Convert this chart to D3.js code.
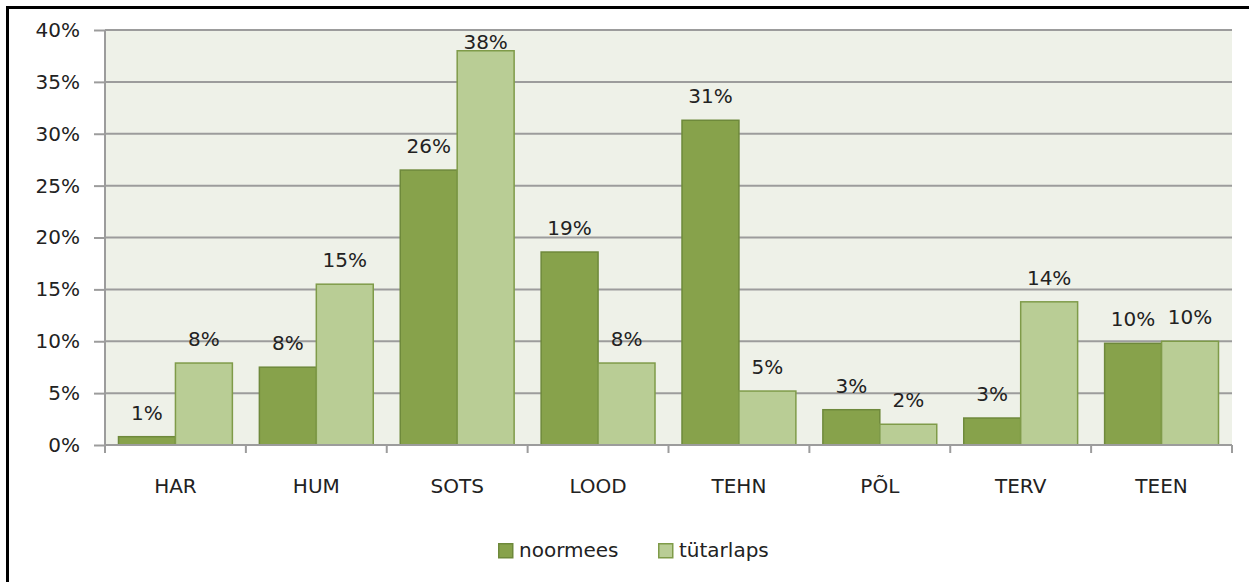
<!DOCTYPE html>
<html>
<head>
<meta charset="utf-8">
<script src="https://cdn.jsdelivr.net/npm/d3@7"></script>
<style>
  html, body { margin: 0; padding: 0; background: #fff; }
  svg { display: block; }
  text { font-family: "DejaVu Sans", Verdana, sans-serif; fill: #222; }
</style>
</head>
<body>
<script>
const categories = ["HAR", "HUM", "SOTS", "LOOD", "TEHN", "PÕL", "TERV", "TEEN"];
const seriesNames = ["noormees", "tütarlaps"];
const noormees  = [0.8, 7.5, 26.5, 18.6, 31.3, 3.4, 2.6, 9.8];
const tutarlaps = [7.9, 15.5, 38.0, 7.9, 5.2, 2.0, 13.8, 10.0];
const valueLabels = {
  noormees:  ["1%", "8%", "26%", "19%", "31%", "3%", "3%", "10%"],
  tütarlaps: ["8%", "15%", "38%", "8%", "5%", "2%", "14%", "10%"]
};
const yTicks = [0, 5, 10, 15, 20, 25, 30, 35, 40];

const W = 1249, H = 582;
const plot = { left: 105, right: 1232, top: 30, bottom: 445 };
const colors = {
  noormees:  { fill: "#87A24B", stroke: "#6E893B" },
  tütarlaps: { fill: "#B9CD95", stroke: "#7F9B49" }
};
const FS = 20;

const svg = d3.select("body").append("svg").attr("width", W).attr("height", H);

// outer frame (top and left visible)
svg.append("path")
  .attr("d", `M7.5,${H + 5} V7.5 H${W + 5}`)
  .attr("fill", "none").attr("stroke", "#000").attr("stroke-width", 3);

const x = d3.scaleBand().domain(categories).range([plot.left, plot.right]).padding(0);
const inner = d3.scaleBand().domain(seriesNames)
  .range([13.5, x.bandwidth() - 13.5]).padding(0);
const y = d3.scaleLinear().domain([0, 40]).range([plot.bottom, plot.top]);

// plot background
svg.append("rect")
  .attr("x", plot.left).attr("y", plot.top)
  .attr("width", plot.right - plot.left).attr("height", plot.bottom - plot.top)
  .attr("fill", "#EEF1E8");

// gridlines
svg.append("g").selectAll("line").data(yTicks.filter(d => d > 0)).join("line")
  .attr("x1", plot.left).attr("x2", plot.right)
  .attr("y1", d => y(d)).attr("y2", d => y(d))
  .attr("stroke", "#9C9C9C").attr("stroke-width", 2);

// y axis
const yAxis = d3.axisLeft(y).tickValues(yTicks).tickFormat(d => d + "%").tickSize(11).tickPadding(14);
const gy = svg.append("g").attr("transform", `translate(${plot.left},0)`).call(yAxis);
gy.select(".domain").attr("stroke", "#9C9C9C").attr("stroke-width", 2)
  .attr("d", `M0,${plot.top}V${plot.bottom + 8}`);
gy.selectAll(".tick line").attr("stroke", "#9C9C9C").attr("stroke-width", 2);
gy.selectAll(".tick text").attr("font-size", FS).attr("fill", "#222")
  .attr("font-family", "DejaVu Sans, Verdana, sans-serif");

// bars
const data = categories.map((c, i) => ({ cat: c, vals: [
  { s: "noormees", v: noormees[i], label: valueLabels.noormees[i] },
  { s: "tütarlaps", v: tutarlaps[i], label: valueLabels["tütarlaps"][i] }
]}));

const groups = svg.append("g").selectAll("g").data(data).join("g")
  .attr("transform", d => `translate(${x(d.cat)},0)`);

groups.selectAll("rect").data(d => d.vals).join("rect")
  .attr("x", d => inner(d.s))
  .attr("y", d => y(d.v))
  .attr("width", inner.bandwidth())
  .attr("height", d => y(0) - y(d.v))
  .attr("fill", d => colors[d.s].fill)
  .attr("stroke", d => colors[d.s].stroke)
  .attr("stroke-width", 1.5);

groups.selectAll("text").data(d => d.vals).join("text")
  .attr("x", d => inner(d.s) + inner.bandwidth() / 2)
  .attr("y", d => Math.max(y(d.v) - 17, plot.top + 19))
  .attr("text-anchor", "middle")
  .attr("font-size", FS)
  .text(d => d.label);

// x axis line and ticks
svg.append("line")
  .attr("x1", plot.left).attr("x2", plot.right)
  .attr("y1", plot.bottom).attr("y2", plot.bottom)
  .attr("stroke", "#9C9C9C").attr("stroke-width", 2);
const edges = categories.map(c => x(c)).concat([plot.right]);
svg.append("g").selectAll("line").data(edges).join("line")
  .attr("x1", d => d).attr("x2", d => d)
  .attr("y1", plot.bottom).attr("y2", plot.bottom + 8)
  .attr("stroke", "#9C9C9C").attr("stroke-width", 2);

svg.append("g").selectAll("text").data(categories).join("text")
  .attr("x", d => x(d) + x.bandwidth() / 2)
  .attr("y", 493)
  .attr("text-anchor", "middle")
  .attr("font-size", FS)
  .text(d => d);

// legend
const legendItems = [
  { s: "noormees", x: 498 },
  { s: "tütarlaps", x: 658 }
];
const lg = svg.append("g").selectAll("g").data(legendItems).join("g")
  .attr("transform", d => `translate(${d.x},543)`);
lg.append("rect").attr("x", 0.75).attr("y", 0.75).attr("width", 14).attr("height", 14)
  .attr("fill", d => colors[d.s].fill).attr("stroke", d => colors[d.s].stroke).attr("stroke-width", 1.5);
lg.append("text").attr("x", 21).attr("y", 14).attr("font-size", FS).text(d => d.s);
</script>
</body>
</html>
